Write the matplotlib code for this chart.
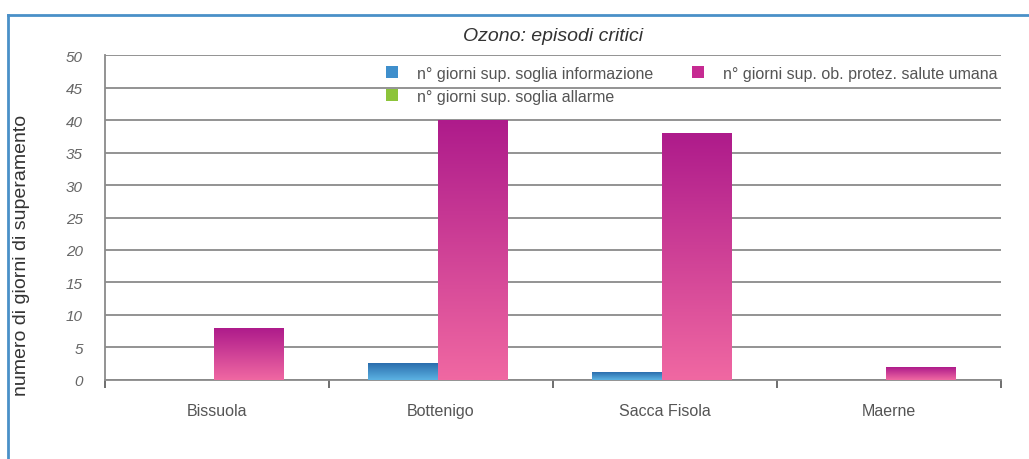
import numpy as np
import matplotlib
matplotlib.use('Agg')
import matplotlib.pyplot as plt
from matplotlib.patches import Patch
from matplotlib.lines import Line2D
from matplotlib.colors import LinearSegmentedColormap

plt.rcParams['font.family'] = ['Liberation Sans', 'DejaVu Sans']

# dati
stazioni = ['Bissuola', 'Bottenigo', 'Sacca Fisola', 'Maerne']
soglia_info = [0, 2.5, 1.2, 0]
soglia_allarme = [0, 0, 0, 0]
ob_salute = [8, 40, 38, 2]
etichette = ['n° giorni sup. soglia informazione',
             'n° giorni sup. soglia allarme',
             'n° giorni sup. ob. protez. salute umana']

fig = plt.figure(figsize=(10.29, 4.6), dpi=100)
ax = fig.add_axes([0.102, 0.1724, 0.8708, 0.7052])

x = np.arange(len(stazioni))
w = 0.31

# gradienti verticali (basso -> alto)
cmap_blu = LinearSegmentedColormap.from_list('blu', ['#5cb2e2', '#2a6dad'])
cmap_mag = LinearSegmentedColormap.from_list('mag', ['#f068a2', '#ae1b8b'])
grad = np.linspace(0, 1, 256).reshape(-1, 1)

def barre_sfumate(pos, valori, cmap):
    bars = ax.bar(pos, valori, w, facecolor='none', edgecolor='none', zorder=3)
    for b in bars:
        bx, by = b.get_x(), b.get_y()
        bw, bh = b.get_width(), b.get_height()
        if bh <= 0:
            continue
        im = ax.imshow(grad, extent=[bx, bx + bw, by, by + bh], origin='lower',
                       cmap=cmap, aspect='auto', zorder=3)
        im.set_clip_path(b)
    return bars

barre_sfumate(x - 0.17, soglia_info, cmap_blu)
ax.bar(x - 0.02, soglia_allarme, w, color='#3aa046', linewidth=0, zorder=3)
barre_sfumate(x + 0.14, ob_salute, cmap_mag)

ax.set_xlim(-0.5, 3.5)
ax.set_ylim(0, 50)
ax.set_yticks(np.arange(0, 51, 5))
ax.yaxis.grid(True, color='#8a8a8a', linewidth=1.3)
ax.set_axisbelow(True)

for s in ['top', 'right']:
    ax.spines[s].set_visible(False)
ax.spines['left'].set_color('#8a8a8a')
ax.spines['bottom'].set_color('#8a8a8a')
ax.spines['left'].set_linewidth(1.3)
ax.spines['bottom'].set_linewidth(1.3)

ax.tick_params(axis='y', length=0, pad=16, labelsize=11, labelcolor='#666666')
for t in ax.get_yticklabels():
    t.set_fontstyle('italic')

ax.set_xticks(x)
ax.set_xticklabels(stazioni)
ax.set_xticks(np.arange(-0.5, 3.6, 1), minor=True)
ax.tick_params(axis='x', which='major', length=0, pad=17, labelsize=11.5, labelcolor='#555555')
ax.tick_params(axis='x', which='minor', length=6, width=1.2, color='#555555')

ax.set_ylabel('numero di giorni di superamento', fontsize=14, color='#333333')
ax.yaxis.set_label_coords(-0.084, 0.385)

ax.set_title('Ozono: episodi critici', fontsize=14, style='italic', color='#333333', pad=11)

handles = [Patch(facecolor='#3f8fcc', edgecolor='none'),
           Patch(facecolor='#8cc43a', edgecolor='none'),
           Patch(facecolor='#c62a92', edgecolor='none')]
fig.legend(handles, etichette, loc='upper left', bbox_to_anchor=(0.375, 0.855),
           ncol=2, frameon=False, fontsize=11.5, labelcolor='#555555',
           handlelength=0.75, handleheight=0.75, handletextpad=1.2,
           labelspacing=0.5, columnspacing=2.4, borderpad=0, borderaxespad=0)

# cornice blu
fig.add_artist(Line2D([8 / 1029, 1], [1 - 15.7 / 460] * 2, color='#4a90c8', linewidth=2))
fig.add_artist(Line2D([8 / 1029] * 2, [0, 1 - 15.7 / 460], color='#4a90c8', linewidth=2))

fig.savefig('out.png', dpi=100)
